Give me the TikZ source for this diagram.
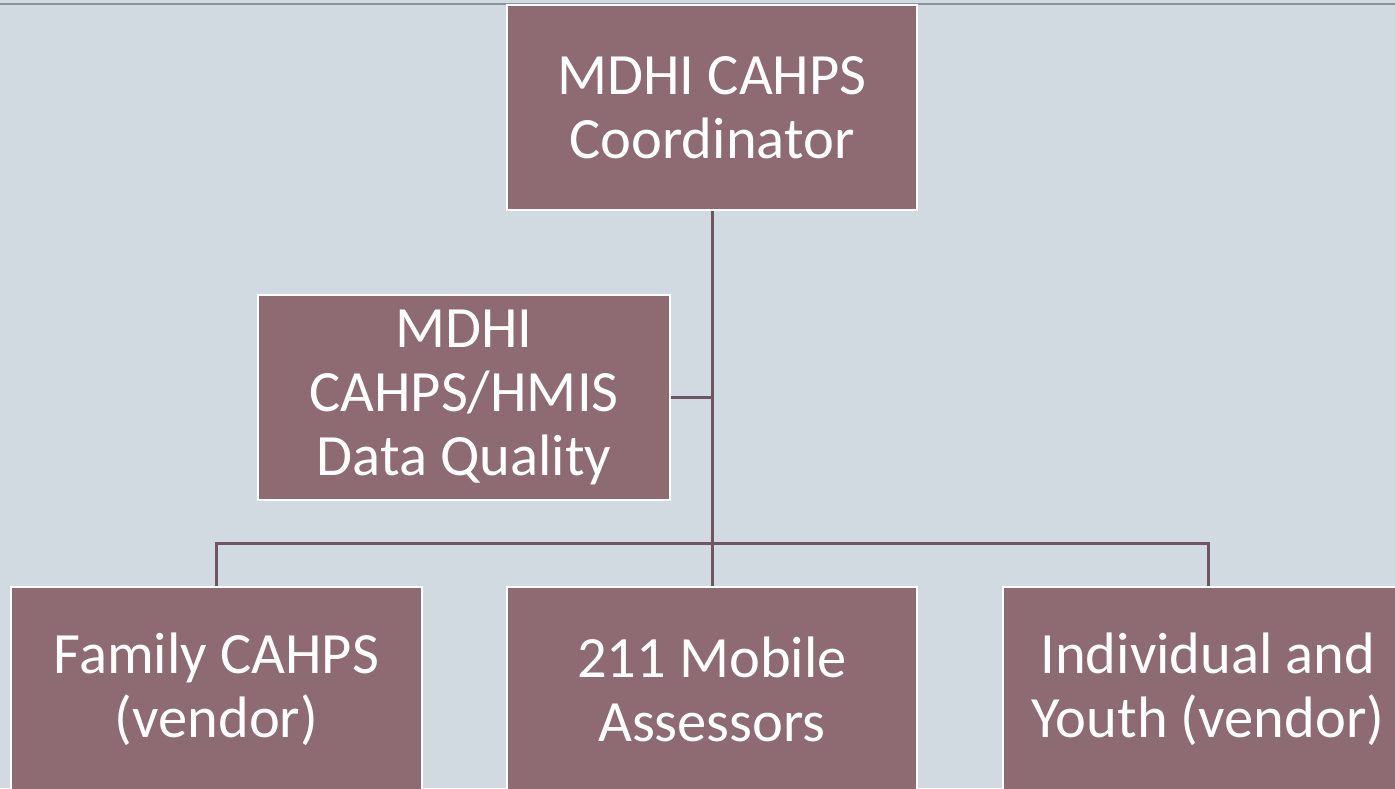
\documentclass[tikz,border=0pt]{standalone}
\usepackage{fontspec}
\setmainfont{Carlito}
\definecolor{bgc}{HTML}{D1DAE1}
\definecolor{boxc}{HTML}{8E6A73}
\definecolor{linec}{HTML}{6E5560}
\definecolor{topline}{HTML}{8C9399}
\tikzset{
  orgbox/.style={draw=white, line width=2.2pt, fill=boxc, text=white,
    minimum width=410pt, minimum height=205pt, inner sep=0pt, align=center,
    font=\fontsize{58.5}{64}\selectfont},
  conn/.style={draw=linec, line width=3pt}
}
\begin{document}
\begin{tikzpicture}[x=1pt,y=-1pt]
\fill[bgc] (0,0) rectangle (1395,788);
\useasboundingbox (0,0) rectangle (1395,788);
\draw[topline, line width=1.6pt] (0,4) -- (1395,4);
\coordinate (bus) at (712,543);
\node[orgbox] (top) at (712,107.5) {MDHI CAHPS\\Coordinator};
\node[orgbox, minimum width=412pt] (asst) at (464,397.5) {MDHI\\CAHPS/HMIS\\Data Quality};
\node[orgbox, minimum width=411pt] (fam) at (216.5,689.5) {Family CAHPS\\(vendor)};
\node[orgbox] (mob) at (712,689.5) {211 Mobile\\Assessors};
\node[orgbox] (ind) at (1208,689.5) {Individual and\\Youth (vendor)};
\draw[conn] (top.south) -- (mob.north);
\draw[conn] (asst.east) -- (asst.east -| top.south);
\draw[conn] (fam.north) |- (bus) -| (ind.north);
\end{tikzpicture}
\end{document}
